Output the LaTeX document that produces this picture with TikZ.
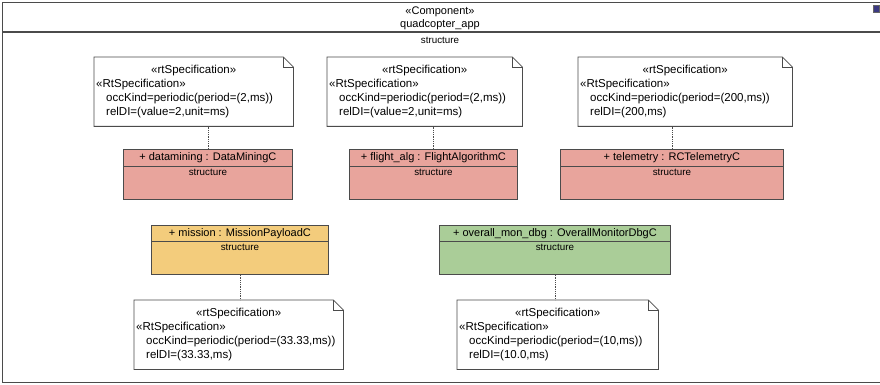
\documentclass[tikz,border=0pt]{standalone}
\usepackage{fontspec}
\setmainfont{Liberation Sans}
\usetikzlibrary{positioning,calc}

\definecolor{partred}{RGB}{232,164,156}
\definecolor{partyellow}{RGB}{243,204,124}
\definecolor{partgreen}{RGB}{170,205,152}
\definecolor{linegray}{RGB}{75,75,75}
\definecolor{iconblue}{RGB}{60,58,130}

\newcommand{\speclines}[2]{\makebox[\hsize][c]{«rtSpecification»}\\«RtSpecification»\\\hspace*{10pt}occKind=periodic(period=#1)\\\hspace*{10pt}relDI=#2}
\newcommand{\specoutline}[1]{%
  \draw[linegray, thick] (#1.north west) -- ([xshift=-10pt]#1.north east) -- ([yshift=-10pt]#1.north east) -- (#1.south east) -- (#1.south west) -- cycle;
  \draw[linegray, thick] ([xshift=-10pt]#1.north east) -- ([xshift=-10pt, yshift=-10pt]#1.north east) -- ([yshift=-10pt]#1.north east);}

\begin{document}
\begin{tikzpicture}
    \tikzstyle{frame}=[draw=linegray, line width=1.4pt, anchor=north west, inner sep=0pt]
    \tikzstyle{part}=[draw=linegray, thick, anchor=north west, inner sep=0pt]
    \tikzstyle{parttitle}=[anchor=north, inner sep=0pt, font=\fontsize{11}{13}\selectfont]
    \tikzstyle{partbody}=[inner sep=1pt, font=\fontsize{9.8}{12}\selectfont]
    \tikzstyle{spec}=[anchor=north west, inner sep=2pt, minimum height=69pt, align=left, font=\fontsize{11.5}{14}\selectfont]
    \tikzstyle{link}=[densely dotted, thick, draw=linegray]

    \coordinate (frameAnchor) at (0,0);
    \useasboundingbox (frameAnchor) rectangle ([xshift=880pt, yshift=-385pt] frameAnchor);

    % component frame
    {
      \node[frame, minimum width=878pt, minimum height=380pt] (app) at ([xshift=2pt, yshift=-2pt] frameAnchor) {};
      \node[font=\fontsize{11}{13}\selectfont, inner sep=0pt] (appStereo) at ([xshift=440pt, yshift=-12pt] frameAnchor) {«Component»};
      \node[font=\fontsize{11}{13}\selectfont, inner sep=0pt] (appName) at ([xshift=440pt, yshift=-25pt] frameAnchor) {quadcopter\_app};
      \draw[linegray, line width=1.4pt] ([yshift=-30pt] app.north west) -- ([yshift=-30pt] app.north east);
      \node[partbody] (appBody) at ([xshift=440pt, yshift=-40pt] frameAnchor) {structure};
      \node[fill=iconblue, draw=black!60, minimum width=6pt, minimum height=7pt, inner sep=0pt, anchor=north west] (appIcon) at ([xshift=873pt, yshift=-5pt] frameAnchor) {};
    }

    % parts
    {
      \node[part, fill=partred, minimum width=169pt, minimum height=50pt] (datamining) at ([xshift=123pt, yshift=-149pt] frameAnchor) {};
      \node[parttitle, minimum height=17pt] (dataminingTitle) at (datamining.north) {+ datamining : DataMiningC};
      \draw[linegray, thick] (datamining.west |- dataminingTitle.south) -- (datamining.east |- dataminingTitle.south);
      \node[partbody, below=1.5pt of dataminingTitle] (dataminingBody) {structure};

      \node[part, fill=partred, minimum width=168pt, minimum height=50pt] (flightalg) at ([xshift=349pt, yshift=-149pt] frameAnchor) {};
      \node[parttitle, minimum height=17pt] (flightalgTitle) at (flightalg.north) {+ flight\_alg : FlightAlgorithmC};
      \draw[linegray, thick] (flightalg.west |- flightalgTitle.south) -- (flightalg.east |- flightalgTitle.south);
      \node[partbody, below=1.5pt of flightalgTitle] (flightalgBody) {structure};

      \node[part, fill=partred, minimum width=223pt, minimum height=50pt] (telemetry) at ([xshift=560pt, yshift=-149pt] frameAnchor) {};
      \node[parttitle, minimum height=17pt] (telemetryTitle) at (telemetry.north) {+ telemetry : RCTelemetryC};
      \draw[linegray, thick] (telemetry.west |- telemetryTitle.south) -- (telemetry.east |- telemetryTitle.south);
      \node[partbody, below=1.5pt of telemetryTitle] (telemetryBody) {structure};

      \node[part, fill=partyellow, minimum width=177pt, minimum height=49pt] (mission) at ([xshift=151pt, yshift=-225pt] frameAnchor) {};
      \node[parttitle, minimum height=16pt] (missionTitle) at (mission.north) {+ mission : MissionPayloadC};
      \draw[linegray, thick] (mission.west |- missionTitle.south) -- (mission.east |- missionTitle.south);
      \node[partbody, below=1.5pt of missionTitle] (missionBody) {structure};

      \node[part, fill=partgreen, minimum width=231pt, minimum height=49pt] (overall) at ([xshift=439pt, yshift=-225pt] frameAnchor) {};
      \node[parttitle, minimum height=16pt] (overallTitle) at (overall.north) {+ overall\_mon\_dbg : OverallMonitorDbgC};
      \draw[linegray, thick] (overall.west |- overallTitle.south) -- (overall.east |- overallTitle.south);
      \node[partbody, below=1.5pt of overallTitle] (overallBody) {structure};
    }

    % rt specifications
    {
      \node[spec, text width=195pt] (dataminingSpec) at ([xshift=94pt, yshift=-57pt] frameAnchor) {\speclines{(2,ms)}{(value=2,unit=ms)}};
      \node[spec, text width=191pt] (flightalgSpec) at ([xshift=327pt, yshift=-57pt] frameAnchor) {\speclines{(2,ms)}{(value=2,unit=ms)}};
      \node[spec, text width=210pt] (telemetrySpec) at ([xshift=578pt, yshift=-57pt] frameAnchor) {\speclines{(200,ms)}{(200,ms)}};
      \node[spec, text width=205pt] (missionSpec) at ([xshift=134pt, yshift=-300pt] frameAnchor) {\speclines{(33.33,ms)}{(33.33,ms)}};
      \node[spec, text width=197pt] (overallSpec) at ([xshift=457pt, yshift=-300pt] frameAnchor) {\speclines{(10,ms)}{(10.0,ms)}};

      \specoutline{dataminingSpec}
      \specoutline{flightalgSpec}
      \specoutline{telemetrySpec}
      \specoutline{missionSpec}
      \specoutline{overallSpec}

      \draw[link] (datamining.north) -- (datamining.north |- dataminingSpec.south);
      \draw[link] (flightalg.north) -- (flightalg.north |- flightalgSpec.south);
      \draw[link] (telemetry.north) -- (telemetry.north |- telemetrySpec.south);
      \draw[link] (mission.south) -- (mission.south |- missionSpec.north);
      \draw[link] (overall.south) -- (overall.south |- overallSpec.north);
    }
\end{tikzpicture}
\end{document}
